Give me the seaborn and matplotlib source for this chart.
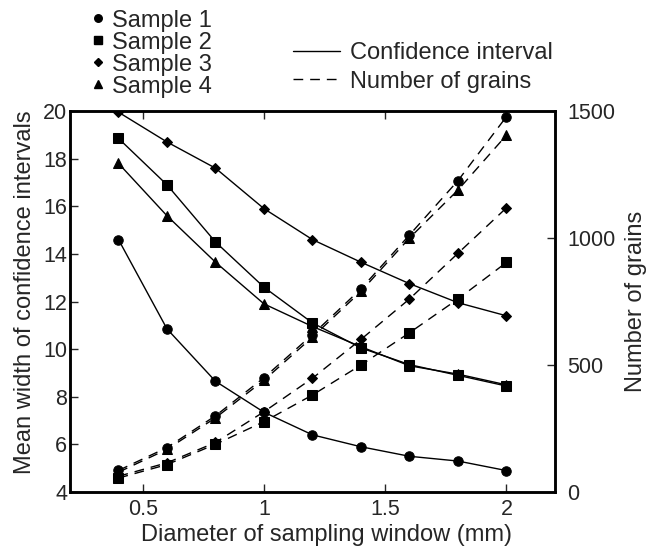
import pandas as pd
import seaborn as sns
import matplotlib.pyplot as plt
from matplotlib.lines import Line2D

# diameter of sampling window (mm)
window = [0.4, 0.6, 0.8, 1.0, 1.2, 1.4, 1.6, 1.8, 2.0]
samples = ["Sample 1", "Sample 2", "Sample 3", "Sample 4"]
markers = ["o", "s", "D", "^"]
msizes = [6.8, 6.8, 4.8, 7.2]

# mean width of confidence intervals (left axis)
ci_s1 = [14.6, 10.85, 8.65, 7.35, 6.4, 5.9, 5.5, 5.3, 4.9]
ci_s2 = [18.85, 16.9, 14.5, 12.6, 11.1, 10.05, 9.35, 8.9, 8.45]
ci_s3 = [19.95, 18.7, 17.6, 15.9, 14.6, 13.65, 12.75, 11.95, 11.4]
ci_s4 = [17.8, 15.6, 13.65, 11.9, 10.95, 10.1, 9.3, 8.95, 8.5]

# number of grains (right axis)
grains_s1 = [85, 175, 300, 450, 620, 800, 1012, 1226, 1478]
grains_s2 = [55, 108, 188, 277, 382, 500, 627, 760, 904]
grains_s3 = [62, 115, 195, 316, 448, 601, 760, 940, 1119]
grains_s4 = [78, 168, 292, 440, 610, 790, 1000, 1189, 1405]

ci_all = [ci_s1, ci_s2, ci_s3, ci_s4]
grains_all = [grains_s1, grains_s2, grains_s3, grains_s4]

rows = []
for name, ci, gr in zip(samples, ci_all, grains_all):
    for w, c, g in zip(window, ci, gr):
        rows.append({"sample": name, "window": w, "ci": c, "grains": g})
data = pd.DataFrame(rows)

sns.set_style("ticks")
plt.rcParams["font.family"] = ["Liberation Sans", "DejaVu Sans"]
plt.rcParams["font.size"] = 17

fig = plt.figure(figsize=(6.53, 5.54), dpi=100)
ax = fig.add_axes([0.1072, 0.1119, 0.7427, 0.6877])
ax2 = ax.twinx()

dash = (0, (7, 5))
for name, m, ms in zip(samples, markers, msizes):
    sub = data[data["sample"] == name]
    sns.lineplot(data=sub, x="window", y="ci", ax=ax, color="black",
                 marker=m, markersize=ms, markeredgecolor="black",
                 linewidth=1.0)
    sns.lineplot(data=sub, x="window", y="grains", ax=ax2, color="black",
                 marker=m, markersize=ms, markeredgecolor="black",
                 linewidth=1.0, linestyle=dash)

ax.set_xlim(0.2, 2.2)
ax.set_ylim(4, 20)
ax2.set_ylim(0, 1500)
ax.set_xticks([0.5, 1, 1.5, 2])
ax.set_xticklabels(["0.5", "1", "1.5", "2"])
ax.set_yticks(range(4, 21, 2))
ax2.set_yticks([0, 500, 1000, 1500])

ax.set_xlabel("Diameter of sampling window (mm)", fontsize=17, labelpad=3)
ax.set_ylabel("Mean width of confidence intervals", fontsize=17, labelpad=5)
ax2.set_ylabel("Number of grains", fontsize=17, labelpad=7)
# the original labels sit a little off-centre
ax.xaxis.label.set_x(0.528)
ax.yaxis.label.set_y(0.524)

ax.tick_params(axis="both", direction="in", length=6, width=1, labelsize=15.5,
               top=True, right=False)
ax.tick_params(axis="y", pad=2)
ax.tick_params(axis="x", pad=5)
ax2.tick_params(axis="y", direction="in", length=6, width=1, labelsize=15.5, pad=9)

for a in (ax, ax2):
    for sp in a.spines.values():
        sp.set_linewidth(1.8)
        sp.set_color("black")

sample_handles = [Line2D([], [], marker=m, linestyle="none", color="black",
                         markersize=ms * 0.8) for m, ms in zip(markers, msizes)]
fig.legend(sample_handles, samples, loc="upper left",
           bbox_to_anchor=(92 / 653, 1 - 9.5 / 554), frameon=False,
           handlelength=0.5, handletextpad=0.35, labelspacing=0.0,
           borderpad=0, borderaxespad=0, fontsize=17)

type_handles = [Line2D([], [], color="black", linewidth=1.0),
                Line2D([], [], color="black", linewidth=1.0, linestyle=dash)]
fig.legend(type_handles, ["Confidence interval", "Number of grains"],
           loc="upper left", bbox_to_anchor=(293 / 653, 1 - 42 / 554),
           frameon=False, handlelength=2.0, handletextpad=0.42,
           labelspacing=0.28, borderpad=0, borderaxespad=0, fontsize=17)

fig.savefig("out.png", dpi=100)
